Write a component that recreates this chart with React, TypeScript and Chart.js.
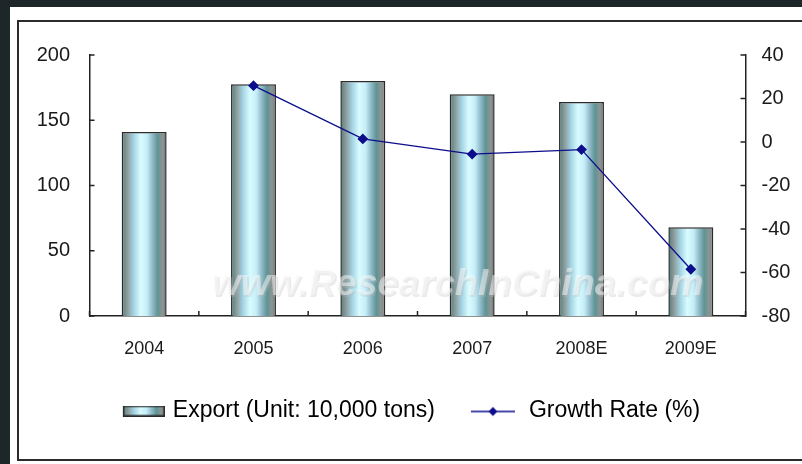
import React, { useEffect, useRef } from "react";
import { Chart, registerables } from "chart.js";

Chart.register(...registerables);

const categories = ["2004", "2005", "2006", "2007", "2008E", "2009E"];
const exportValues = [141, 177.5, 180, 170, 164, 68];
const growthRates: (number | null)[] = [null, 25.9, 1.4, -5.6, -3.5, -58.5];
const leftTicks = [0, 50, 100, 150, 200];
const rightTicks = [-80, -60, -40, -20, 0, 20, 40];
const exportLabel = "Export (Unit: 10,000 tons)";
const growthLabel = "Growth Rate (%)";
const watermarkText = "www.ResearchInChina.com";

const BAR_PCT = 0.411;
const NAVY = "#0d0d8c";
const AXIS = "#222222";
const FONT = "'Liberation Sans', Arial, sans-serif";
const gradStops: [number, string][] = [
  [0, "#4c7e7e"],
  [0.12, "#8c9a9a"],
  [0.26, "#a2d2e2"],
  [0.42, "#d8fcff"],
  [0.56, "#c6eef8"],
  [0.68, "#92bccb"],
  [0.8, "#5e9494"],
  [0.91, "#8e9494"],
  [1, "#707878"],
];

function makeGradient(ctx: CanvasRenderingContext2D, x0: number, x1: number) {
  const g = ctx.createLinearGradient(x0, 0, x1, 0);
  gradStops.forEach(([o, c]) => g.addColorStop(o, c));
  return g;
}

function legendBoxImage() {
  const c = document.createElement("canvas");
  c.width = 66;
  c.height = 11;
  const g = c.getContext("2d")!;
  g.fillStyle = makeGradient(g, 24, 66);
  g.fillRect(24, 0, 42, 11);
  g.strokeStyle = "#2a2a2a";
  g.lineWidth = 1.5;
  g.strokeRect(24.75, 0.75, 40.5, 9.5);
  return c;
}

function legendLineImage() {
  const c = document.createElement("canvas");
  c.width = 54;
  c.height = 13;
  const g = c.getContext("2d")!;
  g.strokeStyle = NAVY;
  g.lineWidth = 1.4;
  g.beginPath();
  g.moveTo(10, 7);
  g.lineTo(54, 7);
  g.stroke();
  g.fillStyle = NAVY;
  g.beginPath();
  g.moveTo(32, 2.5);
  g.lineTo(36.5, 7);
  g.lineTo(32, 11.5);
  g.lineTo(27.5, 7);
  g.closePath();
  g.fill();
  return c;
}

const decorPlugin = {
  id: "decor",
  afterDatasetDraw(chart: any, args: any) {
    if (args.index !== 1) return;
    const { ctx, chartArea } = chart;
    ctx.save();
    ctx.font = `italic bold 40px ${FONT}`;
    const w = ctx.measureText(watermarkText).width;
    const target = (chartArea.right - chartArea.left) * 0.75;
    const size = (40 * target) / w;
    ctx.font = `italic bold ${size}px ${FONT}`;
    ctx.textAlign = "center";
    ctx.textBaseline = "middle";
    const cx = (chartArea.left + chartArea.right) / 2 + 40;
    const cy = chartArea.top + (chartArea.bottom - chartArea.top) * 0.88;
    ctx.fillStyle = "rgba(185,185,185,0.3)";
    ctx.fillText(watermarkText, cx + 1.5, cy + 1.5);
    ctx.fillStyle = "rgba(250,250,250,0.5)";
    ctx.fillText(watermarkText, cx, cy);
    ctx.restore();
  },
  afterDraw(chart: any) {
    const { ctx } = chart;
    const xs = chart.scales.x;
    const y0 = chart.scales.y;
    const y1 = chart.scales.y1;
    ctx.save();
    ctx.strokeStyle = AXIS;
    ctx.lineWidth = 1.5;
    ctx.beginPath();
    leftTicks.forEach((v) => {
      const py = y0.getPixelForValue(v);
      ctx.moveTo(y0.right, py);
      ctx.lineTo(y0.right + 5, py);
    });
    rightTicks.forEach((v) => {
      const py = y1.getPixelForValue(v);
      ctx.moveTo(y1.left - 5, py);
      ctx.lineTo(y1.left, py);
    });
    for (let i = 0; i <= categories.length; i++) {
      const px = xs.getPixelForValue(i - 0.5);
      ctx.moveTo(px, xs.top);
      ctx.lineTo(px, xs.top - 5);
    }
    ctx.stroke();
    ctx.restore();
  },
};

export default function App() {
  const ref = useRef<HTMLCanvasElement | null>(null);

  useEffect(() => {
    if (!ref.current) return;
    const boxImg = legendBoxImage();
    const lineImg = legendLineImage();
    const chart = new Chart(ref.current, {
      type: "bar",
      data: {
        labels: categories,
        datasets: [
          {
            type: "line",
            label: growthLabel,
            data: growthRates,
            yAxisID: "y1",
            borderColor: NAVY,
            borderWidth: 1.3,
            pointStyle: "rectRot",
            pointRadius: 4.5,
            pointBackgroundColor: NAVY,
            pointBorderColor: NAVY,
            tension: 0,
            order: 0,
          } as any,
          {
            type: "bar",
            label: exportLabel,
            data: exportValues,
            yAxisID: "y",
            categoryPercentage: 1,
            barPercentage: BAR_PCT,
            borderColor: "#2a2a2a",
            borderWidth: 1.5,
            order: 1,
            backgroundColor: (c: any) => {
              const chart = c.chart;
              const xs = chart.scales?.x;
              if (!xs || c.dataIndex === undefined) return "#a8d8e8";
              const cx = xs.getPixelForValue(c.dataIndex);
              const w = (xs.width / categories.length) * BAR_PCT;
              return makeGradient(chart.ctx, cx - w / 2, cx + w / 2);
            },
          } as any,
        ],
      },
      options: {
        responsive: false,
        animation: false,
        layout: { padding: { left: 10, right: 9.5, top: 55, bottom: 31.5 } },
        plugins: {
          tooltip: { enabled: false },
          legend: {
            position: "bottom",
            align: "center",
            labels: {
              usePointStyle: true,
              pointStyleWidth: 59,
              padding: 23.5,
              color: "#222",
              font: { family: FONT, size: 23 },
              generateLabels: () => [
                {
                  text: exportLabel,
                  pointStyle: boxImg as any,
                  fillStyle: "#a8d8e8",
                  strokeStyle: "#2a2a2a",
                  lineWidth: 0,
                  hidden: false,
                  datasetIndex: 1,
                },
                {
                  text: growthLabel,
                  pointStyle: lineImg as any,
                  fillStyle: NAVY,
                  strokeStyle: NAVY,
                  lineWidth: 0,
                  hidden: false,
                  datasetIndex: 0,
                },
              ],
            },
          },
        },
        scales: {
          x: {
            offset: true,
            grid: { display: false, drawTicks: false },
            border: { display: true, color: AXIS, width: 1.5 },
            ticks: { color: "#1a1a1a", font: { family: FONT, size: 18 }, padding: 22 },
            afterFit: (s: any) => {
              s.height = 60;
            },
          },
          y: {
            position: "left",
            min: leftTicks[0],
            max: leftTicks[leftTicks.length - 1],
            grid: { display: false, drawTicks: false },
            border: { display: true, color: AXIS, width: 1.5 },
            ticks: {
              stepSize: leftTicks[1] - leftTicks[0],
              autoSkip: false,
              color: "#1a1a1a",
              font: { family: FONT, size: 20 },
              padding: 19.5,
            },
            afterFit: (s: any) => {
              s.width = 79.5;
            },
          },
          y1: {
            position: "right",
            min: rightTicks[0],
            max: rightTicks[rightTicks.length - 1],
            grid: { display: false, drawTicks: false },
            border: { display: true, color: AXIS, width: 1.5 },
            ticks: {
              stepSize: rightTicks[1] - rightTicks[0],
              autoSkip: false,
              color: "#1a1a1a",
              font: { family: FONT, size: 20 },
              padding: 16,
            },
            afterFit: (s: any) => {
              s.width = 47;
            },
          },
        },
      },
      plugins: [decorPlugin],
    });
    return () => chart.destroy();
  }, []);

  return (
    <div
      style={{
        position: "fixed",
        left: 0,
        top: 0,
        width: 802,
        height: 464,
        background: "#1d272a",
        overflow: "hidden",
      }}
    >
      <div style={{ position: "absolute", left: 10, top: 7, right: 0, bottom: 0, background: "#ffffff" }} />
      <div
        style={{
          position: "absolute",
          left: 17,
          top: 20,
          width: 800,
          height: 437,
          border: "2px solid #2b2b2b",
        }}
      />
      <canvas
        ref={ref}
        width={802}
        height={464}
        style={{ position: "absolute", left: 0, top: 0, width: 802, height: 464 }}
      />
    </div>
  );
}
